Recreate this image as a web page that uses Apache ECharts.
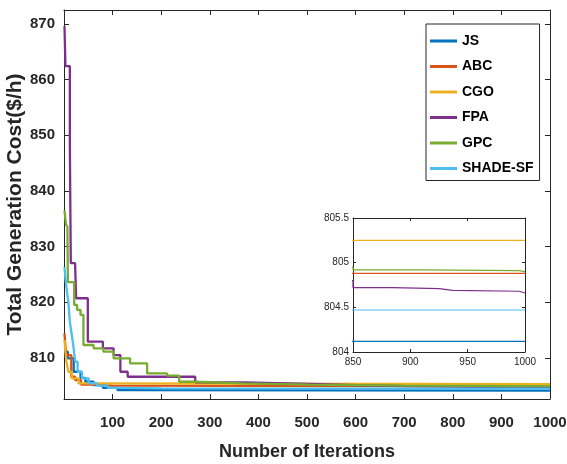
<!DOCTYPE html>
<html>
<head>
<meta charset="utf-8">
<script src="https://cdn.jsdelivr.net/npm/echarts@6/dist/echarts.min.js"></script>
<style>
  html, body { margin: 0; padding: 0; background: #fff; }
  #chart { width: 567px; height: 464px; }
</style>
</head>
<body>
<div id="chart"></div>
<script>
  // 收敛曲线数据（迭代次数 / 成本），阶梯点
  const seriesNames = ["JS", "ABC", "CGO", "FPA", "GPC", "SHADE-SF"];

  const jsIter = [1, 8, 20, 34, 44, 61, 80, 110, 130, 1000];
  const jsCost = [811.1, 809.9, 807.5, 806.4, 805.7, 805.1, 804.6, 804.2, 804.12, 804.12];

  const abcIter = [1, 3, 5, 15, 23, 35, 60, 100, 1000];
  const abcCost = [814.4, 812.0, 810.5, 806.6, 806.0, 805.2, 805.0, 804.88, 804.87];

  const cgoIter = [1, 3, 5, 9, 16, 30, 60, 1000];
  const cgoCost = [813.2, 811.0, 809.3, 807.5, 806.3, 805.4, 805.25, 805.25];

  const fpaIter = [1, 3, 12, 14, 23, 25, 49, 80, 102, 116, 131, 270, 369, 506, 600, 700, 850, 885, 925, 937, 995, 1000];
  const fpaCost = [869.6, 862.4, 848.5, 827.0, 826.3, 820.7, 812.9, 811.7, 810.5, 807.5, 806.6, 805.6, 805.3, 805.1, 804.9, 804.8, 804.72, 804.71, 804.69, 804.68, 804.66, 804.66];

  const gpcIter = [1, 4, 7, 8, 21, 27, 34, 40, 61, 81, 102, 136, 171, 212, 237, 270, 369, 506, 700, 850, 910, 995, 1000];
  const gpcCost = [836.5, 834.0, 833.5, 823.6, 819.5, 818.6, 817.7, 812.3, 811.7, 811.1, 809.9, 809.0, 807.2, 806.8, 805.7, 805.4, 805.2, 805.0, 804.95, 804.92, 804.91, 804.90, 804.90];

  const shadeIter = [1, 3, 6, 9, 12, 16, 19, 23, 28, 37, 51, 68, 90, 120, 200, 1000];
  const shadeCost = [826.3, 824.2, 822.0, 820.0, 816.5, 814.1, 812.3, 809.3, 807.5, 806.3, 805.4, 805.0, 804.6, 804.5, 804.47, 804.47];

  // 刻度
  const xTicks = [100, 200, 300, 400, 500, 600, 700, 800, 900, 1000];
  const yTicks = [810, 820, 830, 840, 850, 860, 870];

  const colors = ["#0072BD", "#D95319", "#EDB120", "#7E2F8E", "#77AC30", "#4DBEEE"];
  const iters = [jsIter, abcIter, cgoIter, fpaIter, gpcIter, shadeIter];
  const costs = [jsCost, abcCost, cgoCost, fpaCost, gpcCost, shadeCost];

  const font = "'Liberation Sans', Arial, sans-serif";
  const axisColor = "#262626";

  const chart = echarts.init(document.getElementById("chart"));

  const makeSeries = (i, xIdx, yIdx, width) => ({
    name: seriesNames[i],
    type: "line",
    step: "end",
    xAxisIndex: xIdx,
    yAxisIndex: yIdx,
    symbol: "none",
    data: iters[i].map((it, k) => [it, costs[i][k]]),
    lineStyle: { color: colors[i], width: width },
    itemStyle: { color: colors[i] },
    clip: true
  });

  const series = [];
  for (let i = 0; i < seriesNames.length; i++) series.push(makeSeries(i, 0, 0, 2.3));
  for (let i = 0; i < seriesNames.length; i++) series.push(makeSeries(i, 2, 2, 1.2));

  const boxAxis = (extra) => Object.assign({
    type: "value",
    axisLine: { show: true, onZero: false, lineStyle: { color: axisColor, width: 1 } },
    axisTick: { show: true, inside: true, length: 5, lineStyle: { color: axisColor } },
    axisLabel: { show: false },
    splitLine: { show: false }
  }, extra);

  const plain = (v) => String(v);

  const option = {
    animation: false,
    backgroundColor: "#fff",
    grid: [
      { left: 64, right: 17, top: 10, bottom: 65, outerBoundsMode: "none", containLabel: false },
      { left: 353, right: 42, top: 218, bottom: 112, outerBoundsMode: "none", containLabel: false,
        show: true, backgroundColor: "#fff", borderWidth: 0 }
    ],
    legend: {
      data: seriesNames,
      orient: "vertical",
      left: 426,
      top: 24,
      padding: [9, 6, 4, 4],
      itemGap: 9.5,
      itemWidth: 27,
      itemHeight: 3,
      icon: "rect",
      borderColor: axisColor,
      borderWidth: 1,
      backgroundColor: "#fff",
      textStyle: { fontFamily: font, fontWeight: "bold", fontSize: 14, color: "#000", lineHeight: 16 }
    },
    xAxis: [
      boxAxis({
        gridIndex: 0, position: "bottom", min: 0, max: 1000,
        axisTick: { show: true, inside: true, length: 5, customValues: xTicks, lineStyle: { color: axisColor } },
        axisLabel: { show: true, customValues: xTicks, formatter: plain, margin: 16, fontFamily: font, fontWeight: "bold", fontSize: 15, color: axisColor },
        name: "Number of Iterations", nameLocation: "middle", nameGap: 44,
        nameTextStyle: { fontFamily: font, fontWeight: "bold", fontSize: 18, color: axisColor }
      }),
      boxAxis({
        gridIndex: 0, position: "top", min: 0, max: 1000,
        axisTick: { show: true, inside: true, length: 5, customValues: xTicks, lineStyle: { color: axisColor } }
      }),
      boxAxis({
        gridIndex: 1, position: "bottom", min: 850, max: 1000, interval: 50,
        axisTick: { show: true, inside: true, length: 3, lineStyle: { color: axisColor } },
        axisLabel: { show: true, formatter: plain, margin: 5, fontFamily: font, fontSize: 10, color: axisColor }
      }),
      boxAxis({
        gridIndex: 1, position: "top", min: 850, max: 1000, interval: 50,
        axisTick: { show: true, inside: true, length: 3, lineStyle: { color: axisColor } }
      })
    ],
    yAxis: [
      boxAxis({
        gridIndex: 0, position: "left", min: 802.6, max: 872.5,
        axisTick: { show: true, inside: true, length: 5, customValues: yTicks, lineStyle: { color: axisColor } },
        axisLabel: { show: true, customValues: yTicks, margin: 9, fontFamily: font, fontWeight: "bold", fontSize: 15, color: axisColor },
        name: "Total Generation Cost($/h)", nameLocation: "middle", nameGap: 38, nameMoveOverlap: false,
        nameTextStyle: { fontFamily: font, fontWeight: "bold", fontSize: 21, color: axisColor }
      }),
      boxAxis({
        gridIndex: 0, position: "right", min: 802.6, max: 872.5,
        axisTick: { show: true, inside: true, length: 5, customValues: yTicks, lineStyle: { color: axisColor } }
      }),
      boxAxis({
        gridIndex: 1, position: "left", min: 804, max: 805.5, interval: 0.5,
        axisTick: { show: true, inside: true, length: 3, lineStyle: { color: axisColor } },
        axisLabel: { show: true, margin: 4, fontFamily: font, fontSize: 10, color: axisColor }
      }),
      boxAxis({
        gridIndex: 1, position: "right", min: 804, max: 805.5, interval: 0.5,
        axisTick: { show: true, inside: true, length: 3, lineStyle: { color: axisColor } }
      })
    ],
    series: series
  };

  chart.setOption(option);
</script>
</body>
</html>
